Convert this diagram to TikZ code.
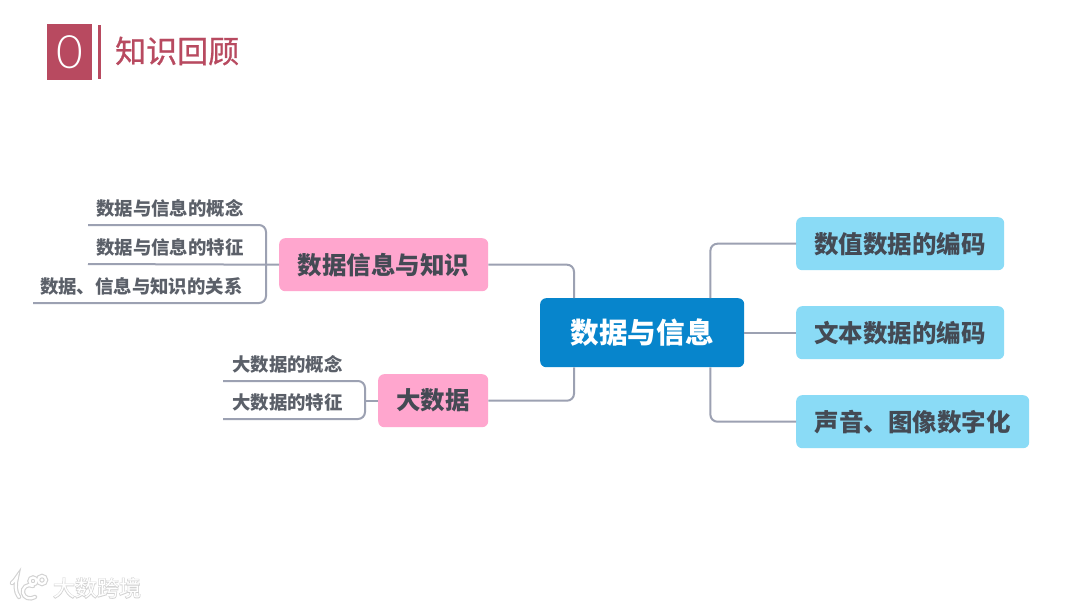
\documentclass[tikz,border=0pt]{standalone}
\usepackage{fontspec}
\setmainfont{Noto Sans CJK SC}
\newfontfamily\cjk{Noto Sans CJK SC}
\newfontfamily\halofont{Noto Sans CJK SC}[FakeBold=5]
\newfontfamily\titlefont{Noto Sans CJK SC}[FakeBold=0.8]
\newfontfamily\zerofont{Lato Light}
\definecolor{pinkbox}{HTML}{FFA6CE}
\definecolor{bluebox}{HTML}{8ADBF6}
\definecolor{hubblue}{HTML}{0785CC}
\definecolor{linkgrey}{HTML}{9CA1B2}
\definecolor{inkgrey}{HTML}{444A54}
\definecolor{rosered}{HTML}{B84A60}
\definecolor{halogrey}{HTML}{D2D2D2}
\tikzset{
  x=1pt,y=-1pt,
  box/.style={rounded corners=6pt,inner sep=0pt,font=\bfseries\fontsize{24.5}{24.5}\selectfont,text=inkgrey,anchor=north west},
  pinkb/.style={box,fill=pinkbox},
  blueb/.style={box,fill=bluebox},
  hubbox/.style={box,fill=hubblue,text=white,font=\bfseries\fontsize{28.6}{28.6}\selectfont},
  leaf/.style={anchor=south west,inner ysep=0pt,minimum height=33pt,font=\bfseries\fontsize{18.4}{18.4}\selectfont,text=inkgrey!88},
  link/.style={draw=linkgrey,line width=2pt,rounded corners=7pt},
}
\begin{document}
\begin{tikzpicture}
\useasboundingbox (0,0) rectangle (1080,608);
\fill[white] (0,0) rectangle (1080,608);

% title
\node[fill=rosered,minimum width=45pt,minimum height=56pt,inner sep=0pt,text=white,font=\zerofont\fontsize{46}{46}\selectfont] (zero) at (69.5,52) {0};
\node[fill=rosered,minimum width=3pt,minimum height=54pt,inner sep=0pt] (bar) at (99,52) {};
\node[anchor=west,inner sep=0pt,text=rosered,font=\titlefont\fontsize{31}{31}\selectfont] (title) at (115,51) {知识回顾};

% boxes
\node[hubbox,minimum width=204pt,minimum height=69pt] (hub) at (540,298) {数据与信息};
\node[pinkb,minimum width=209pt,minimum height=53pt] (p1) at (279,238) {数据信息与知识};
\node[pinkb,minimum width=110pt,minimum height=53pt] (p2) at (378,374) {大数据};
\node[blueb,minimum width=208pt,minimum height=53pt] (b1) at (796,217) {数值数据的编码};
\node[blueb,minimum width=208pt,minimum height=53pt] (b2) at (796,306) {文本数据的编码};
\node[blueb,minimum width=233pt,minimum height=53pt] (b3) at (796,395) {声音、图像数字化};

% leaves
\node[leaf,inner xsep=8pt] (t1) at (88,225) {数据与信息的概念};
\node[leaf,inner xsep=8pt] (t2) at (88,264) {数据与信息的特征};
\node[leaf,inner xsep=7pt] (t3) at (33,303) {数据、信息与知识的关系};
\node[leaf,inner xsep=9pt] (t4) at (223,381) {大数据的概念};
\node[leaf,inner xsep=9pt] (t5) at (223,419) {大数据的特征};

% connectors
\draw[link] (p1.east) -| ([xshift=34pt]hub.north west);
\draw[link] (p2.east) -| ([xshift=34pt]hub.south west);
\draw[link] ([xshift=-34pt]hub.north east) |- (b1.west);
\draw[link] (hub.east |- b2.west) -- (b2.west);
\draw[link] ([xshift=-34pt]hub.south east) |- (b3.west);
\coordinate (s1) at ([xshift=-13pt]p1.west);
\coordinate (s2) at ([xshift=-13pt]p2.west);
\draw[link] (t1.south west) -| (s1) |- (t3.south west);
\draw[link] (p1.west) -- (t2.south west);
\draw[link] (t4.south west) -| (s2) |- (t5.south west);
\draw[link] (p2.west) -- (s2);

% watermark
\foreach \c/\w in {halogrey/4.4pt,white/2.2pt}{
  \draw[\c,line width=\w,line cap=round] (12,583) .. controls (14,581) and (16,579) .. (17,577) .. controls (15,584) and (15,592) .. (19,597);
  \draw[\c,line width=\w,line cap=round] (33,586) .. controls (27,583) and (22,588) .. (23,593) .. controls (24,598) and (30,600) .. (35,597);
  \draw[\c,line width=\w] (33,581) circle (3.5pt);
  \draw[\c,line width=\w] (42,580) circle (4pt);
}
\node[inner sep=0pt,text=halogrey,font=\halofont\fontsize{22}{22}\selectfont] (wmh) at (97,588) {大数跨境};
\node[inner sep=0pt,text=white,font=\cjk\fontsize{22}{22}\selectfont] (wm) at (97,588) {大数跨境};
\end{tikzpicture}
\end{document}
